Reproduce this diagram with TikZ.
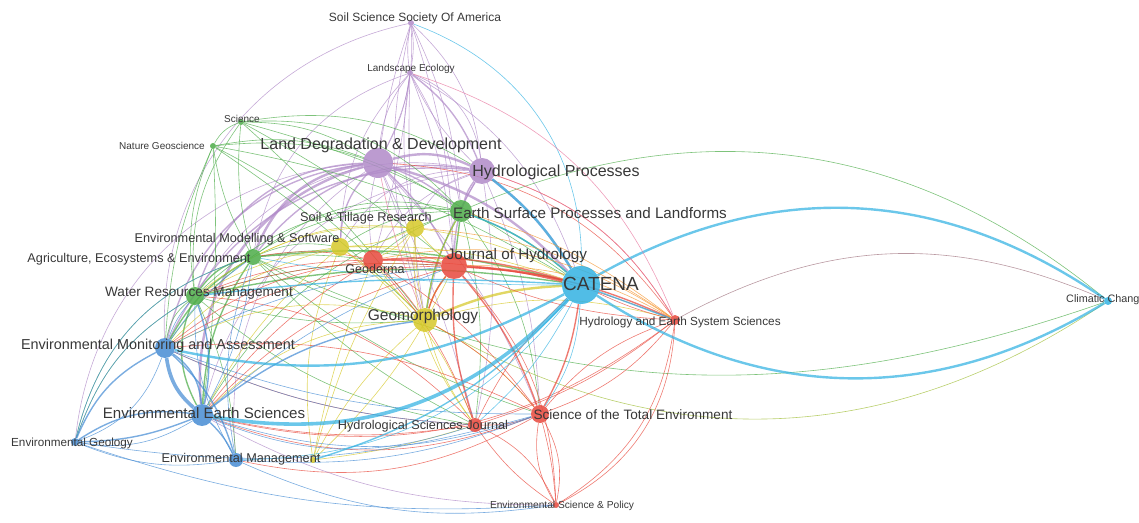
\documentclass[tikz,border=0pt]{standalone}
\usepackage{fontspec}
\setmainfont{Liberation Sans}
\usepackage{tikz}
\usetikzlibrary{positioning}
\definecolor{vred}{RGB}{232,72,60}
\definecolor{vgreen}{RGB}{76,172,72}
\definecolor{vblue}{RGB}{70,140,212}
\definecolor{vyellow}{RGB}{214,200,40}
\definecolor{vpurple}{RGB}{176,138,200}
\definecolor{vcyan}{RGB}{50,178,226}
\definecolor{vorange}{RGB}{245,150,50}
\definecolor{vpink}{RGB}{232,120,160}
\pgfdeclarelayer{edges}
\pgfsetlayers{edges,main}

\begin{document}
\begin{tikzpicture}[
    x=1pt, y=1pt,
    jnl/.style={circle, inner sep=0pt, draw=none, fill opacity=0.85},
    lbl/.style={inner sep=0pt, text=black!78},
    fs/.style={font=\fontsize{#1}{#1}\selectfont},
    ln/.style={line width=0.6pt, draw opacity=0.72},
    w2/.style={line width=1.4pt},
    w3/.style={line width=2.4pt},
    w4/.style={line width=3.6pt}
]
   \useasboundingbox (0,0) rectangle (1139,522);

   % journals (circles)
   \node[jnl, fill=vpurple, minimum size=6pt]  (SSSA) at (411,499) {};
   \node[jnl, fill=vpurple, minimum size=6pt]  (LE)   at (410,449) {};
   \node[jnl, fill=vgreen,  minimum size=6pt]  (SCI)  at (241,400) {};
   \node[jnl, fill=vgreen,  minimum size=6pt]  (NG)   at (213,376) {};
   \node[jnl, fill=vpurple, minimum size=30pt] (LDD)  at (378,359) {};
   \node[jnl, fill=vpurple, minimum size=26pt] (HP)   at (482,351) {};
   \node[jnl, fill=vgreen,  minimum size=22pt] (ESPL) at (461,311) {};
   \node[jnl, fill=vyellow, minimum size=18pt] (STR)  at (415,294) {};
   \node[jnl, fill=vyellow, minimum size=18pt] (EMS)  at (340,275) {};
   \node[jnl, fill=vgreen,  minimum size=16pt] (AEE)  at (253,265) {};
   \node[jnl, fill=vred,    minimum size=20pt] (GEO)  at (373,262) {};
   \node[jnl, fill=vred,    minimum size=26pt] (JH)   at (454,256) {};
   \node[jnl, fill=vcyan,   minimum size=38pt] (CAT)  at (581,237) {};
   \node[jnl, fill=vgreen,  minimum size=18pt] (WRM)  at (195,226) {};
   \node[jnl, fill=vyellow, minimum size=24pt] (GMP)  at (425,202) {};
   \node[jnl, fill=vred,    minimum size=10pt] (HESS) at (675,202) {};
   \node[jnl, fill=vcyan,   minimum size=8pt]  (CC)   at (1108,221) {};
   \node[jnl, fill=vblue,   minimum size=20pt] (EMA)  at (165,174) {};
   \node[jnl, fill=vblue,   minimum size=22pt] (EES)  at (202,107) {};
   \node[jnl, fill=vblue,   minimum size=8pt]  (EG)   at (75,80) {};
   \node[jnl, fill=vblue,   minimum size=14pt] (EM)   at (236,62) {};
   \node[jnl, fill=vyellow, minimum size=6pt]  (YEM)  at (313,62) {};
   \node[jnl, fill=vred,    minimum size=14pt] (HSJ)  at (475,97) {};
   \node[jnl, fill=vred,    minimum size=18pt] (STOT) at (540,108) {};
   \node[jnl, fill=vred,    minimum size=6pt]  (ESP)  at (556,17) {};

   % labels
   \node[lbl, fs=12]   (lSSSA) at (415,504) {Soil Science Society Of America};
   \node[lbl, fs=10]   (lLE)   at (411,453) {Landscape Ecology};
   \node[lbl, fs=10]   (lSCI)  at (242,403) {Science};
   \node[lbl, fs=10]   (lNG)   at (162,376) {Nature Geoscience};
   \node[lbl, fs=16]   (lLDD)  at (381,377) {Land Degradation \& Development};
   \node[lbl, fs=16]   (lHP)   at (556,350) {Hydrological Processes};
   \node[lbl, fs=15.2] (lESPL) at (590,309) {Earth Surface Processes and Landforms};
   \node[lbl, fs=12.7] (lSTR)  at (366,304) {Soil \& Tillage Research};
   \node[lbl, fs=12.7] (lEMS)  at (237,283) {Environmental Modelling \& Software};
   \node[lbl, fs=12.7] (lAEE)  at (139,263) {Agriculture, Ecosystems \& Environment};
   \node[lbl, fs=12.5] (lGEO)  at (375,253) {Geoderma};
   \node[lbl, fs=15.3] (lJH)   at (517,266) {Journal of Hydrology};
   \node[lbl, fs=19]   (lCAT)  at (601,238) {CATENA};
   \node[lbl, fs=13.6] (lWRM)  at (199,229) {Water Resources Management};
   \node[lbl, fs=15.5] (lGMP)  at (423,206) {Geomorphology};
   \node[lbl, fs=11.8] (lHESS) at (680,200) {Hydrology and Earth System Sciences};
   \node[lbl, fs=10.8, anchor=west] (lCC) at (1066,222) {Climatic Chang};
   \node[lbl, fs=14.4] (lEMA)  at (158,176) {Environmental Monitoring and Assessment};
   \node[lbl, fs=15.1] (lEES)  at (204,109) {Environmental Earth Sciences};
   \node[lbl, fs=11.7] (lEG)   at (72,79)   {Environmental Geology};
   \node[lbl, fs=12.7] (lEM)   at (241,63)  {Environmental Management};
   \node[lbl, fs=12.7] (lHSJ)  at (423,96)  {Hydrological Sciences Journal};
   \node[lbl, fs=13.6] (lSTOT) at (633,107) {Science of the Total Environment};
   \node[lbl, fs=10.2] (lESP)  at (562,16)  {Environmental Science \& Policy};

   \begin{pgfonlayer}{edges}
   % purple cluster
   \path[ln, vpurple]
   (SSSA) edge[bend right=10] (LE)
          edge[bend left=10] (LE)
          edge[bend right=5] (LDD)
          edge[bend left=15] (LDD)
          edge[bend left=20] (HP)
          edge[bend left=10] (ESPL)
          edge[bend right=40] (EMA)
          edge[bend left=8] (JH)
          edge[bend right=15] (GMP)
   (LE)   edge[bend right=15] (LDD)
          edge[bend left=10] (LDD)
          edge[w2, bend left=15] (HP)
          edge[bend left=30] (HP)
          edge[bend right=10] (HP)
          edge[bend left=10] (ESPL)
          edge[bend right=10] (STR)
          edge[bend left=5] (GEO)
          edge[bend left=8] (JH)
          edge[bend right=5] (GMP)
          edge[bend left=20] (CAT)
          edge[bend right=30] (AEE)
          edge[bend right=20] (EMS)
   (LDD)  edge[w3, bend left=20] (HP)
          edge[w2, bend left=10] (ESPL)
          edge[w3, bend left=15] (CAT)
          edge[bend left=10] (STR)
          edge[bend right=10] (GEO)
          edge[w2, bend left=10] (JH)
          edge[bend left=5] (GMP)
          edge[w3, bend right=30] (AEE)
          edge[w2, bend right=20] (EMS)
          edge[w2, bend right=35] (WRM)
          edge[w2, bend right=35] (EMA)
          edge[w3, bend right=40] (EES)
          edge[bend right=40] (EG)
          edge[bend right=30] (EM)
          edge[bend left=5] (HSJ)
          edge[bend left=10] (STOT)
   (HP)   edge[w3, bend left=10] (CAT)
          edge[w2, bend right=10] (ESPL)
          edge[w2, bend right=15] (JH)
          edge[bend right=10] (GMP)
          edge[bend right=20] (GEO)
          edge[bend right=25] (STR)
          edge[w2, bend right=30] (AEE)
          edge[bend right=30] (EMS)
          edge[bend right=35] (WRM)
          edge[w2, bend right=35] (EMA)
          edge[bend right=35] (EES)
          edge[bend left=10] (HSJ)
          edge[bend left=10] (STOT);

   % green cluster
   \path[ln, vgreen]
   (SCI)  edge[bend right=20] (NG)
          edge[bend left=25] (ESPL)
          edge[bend left=20] (HP)
          edge[bend left=15] (LDD)
          edge[bend left=10] (CAT)
          edge[bend left=5] (GMP)
          edge[bend left=5] (JH)
          edge[bend right=10] (AEE)
          edge[bend right=20] (WRM)
   (NG)   edge[bend left=20] (ESPL)
          edge[bend left=10] (CAT)
          edge[bend left=8] (GEO)
          edge[bend left=5] (GMP)
          edge[bend right=10] (AEE)
          edge[bend right=15] (WRM)
          edge[bend right=10] (EMA)
          edge[bend left=5] (EES)
          edge[bend left=15] (LDD)
   (ESPL) edge[bend left=31] (CC)
          edge[w2, bend left=10] (CAT)
          edge[w2, bend right=10] (GMP)
          edge[w2] (JH)
          edge[bend left=10] (HSJ)
          edge[bend right=25] (AEE)
          edge[bend right=25] (WRM)
          edge[bend right=30] (EMA)
          edge[bend right=20] (EES)
          edge[bend right=15] (EMS)
          edge[bend right=10] (GEO)
          edge[bend left=15] (STOT)
   (AEE)  edge[bend right=22] (CC)
          edge[w2, bend left=10] (CAT)
          edge[w2, bend right=20] (WRM)
          edge[w2, bend right=15] (EMA)
          edge[w2, bend right=15] (EES)
          edge[bend right=30] (EG)
          edge[bend right=10] (GMP)
          edge[bend left=10] (JH)
          edge[bend left=5] (GEO)
          edge[bend right=10] (STOT)
          edge[bend right=10] (HSJ)
          edge[bend left=15] (EMS)
   (WRM)  edge[w2, bend left=10] (CAT)
          edge[bend right=20] (EMA)
          edge[w2, bend right=25] (EES)
          edge[bend right=20] (EG)
          edge[bend left=10] (JH)
          edge[bend right=15] (HSJ)
          edge[bend right=10] (GMP)
          edge[bend left=10] (EM);

   % yellow cluster
   \path[ln, vyellow]
   (GMP)  edge[vyellow!60!vgreen, bend right=32] (CC)
          edge[w3, bend left=10] (CAT)
          edge[w2, bend left=10] (JH)
          edge[bend left=10] (ESPL)
          edge[bend right=10] (HSJ)
          edge[bend left=10] (STOT)
          edge[bend left=15] (HESS)
          edge[bend right=20] (EES)
          edge[bend right=20] (EMA)
          edge[bend left=5] (GEO)
          edge[bend left=5] (STR)
   (STR)  edge[bend left=10] (GEO)
          edge[bend left=10] (CAT)
          edge[bend right=5] (JH)
          edge[bend left=10] (EMS)
          edge[bend right=15] (AEE)
          edge[bend right=20] (WRM)
          edge[bend right=20] (HSJ)
   (EMS)  edge[bend right=10] (WRM)
          edge[bend right=15] (EMA)
          edge[bend left=10] (JH)
          edge[bend left=10] (CAT)
          edge[bend right=10] (EES)
          edge[bend left=5] (GMP)
          edge[bend left=15] (HSJ)
   (YEM)  edge[bend left=10] (GMP)
          edge[bend left=5] (GEO)
          edge[bend left=8] (STR)
          edge[bend right=10] (JH)
          edge[bend left=15] (EMS)
          edge[bend right=5] (HSJ);

   % red cluster
   \path[ln, vred]
   (GEO)  edge[w2, bend left=5] (JH)
          edge[w2, bend left=10] (CAT)
          edge[bend left=5] (GMP)
          edge[bend right=15] (EMA)
          edge[bend right=10] (EES)
          edge[bend right=10] (WRM)
          edge[bend left=10] (HSJ)
          edge[bend left=10] (STOT)
          edge[bend right=10] (AEE)
   (JH)   edge[w3, bend left=5] (CAT)
          edge[w2, bend left=10] (HESS)
          edge[bend right=10] (HESS)
          edge[w2, bend left=10] (STOT)
          edge[w2, bend right=10] (HSJ)
          edge[w2, bend right=10] (GMP)
          edge[bend left=20] (ESP)
          edge[bend right=15] (EES)
          edge[bend right=15] (EMA)
          edge[bend right=10] (WRM)
   (HESS) edge[vred!60!vcyan, bend left=26] (CC)
          edge[bend right=20] (HP)
          edge[bend right=25] (LDD)
          edge[bend left=5] (CAT)
          edge[bend left=15] (STOT)
          edge[bend right=15] (STOT)
          edge[bend left=10] (HSJ)
          edge[bend left=25] (ESP)
          edge[bend left=30] (ESP)
          edge[bend right=10] (GEO)
          edge[bend left=25] (EES)
   (STOT) edge[bend left=20] (ESP)
          edge[bend right=20] (ESP)
          edge[bend left=5] (ESP)
          edge[bend left=10] (HSJ)
          edge[w2, bend right=10] (CAT)
          edge[bend left=20] (EES)
          edge[bend left=20] (EM)
          edge[bend right=10] (GMP)
          edge[bend right=15] (EMA)
   (HSJ)  edge[bend left=20] (ESP)
          edge[bend right=10] (ESP)
          edge[bend left=10] (EES)
          edge[bend left=10] (EMA)
          edge[bend left=10] (CAT)
          edge[bend right=20] (WRM);

   % blue cluster
   \path[ln, vblue]
   (EES)  edge[w4, bend left=20] (EMA)
          edge[w2, bend right=25] (EMA)
          edge[w2, bend right=20] (EG)
          edge[bend left=20] (EG)
          edge[w2, bend left=10] (EM)
          edge[w2, bend right=15] (WRM)
          edge[bend right=10] (AEE)
          edge[w2, bend left=15] (GMP)
          edge[bend left=10] (JH)
          edge[bend right=20] (HSJ)
          edge[bend right=18] (STOT)
          edge[vpurple, bend right=14] (ESP)
   (EMA)  edge[w2, bend right=20] (EG)
          edge[bend left=25] (EG)
          edge[w2, bend left=15] (EM)
          edge[bend left=10] (WRM)
          edge[bend left=10] (AEE)
          edge[bend left=10] (JH)
          edge[bend right=10] (STOT)
          edge[bend right=10] (HSJ)
   (EG)   edge[w2, bend right=10] (EES)
          edge[bend left=20] (WRM)
          edge[bend left=30] (AEE)
          edge[bend right=15] (EM)
          edge[bend right=12] (STOT)
          edge[bend right=11] (ESP)
   (EM)   edge[bend right=16] (ESP)
          edge[bend right=12] (STOT)
          edge[bend left=15] (AEE)
          edge[bend left=15] (WRM);

   % cyan cluster
   \path[ln, vcyan]
   (SSSA) edge[bend left=35] (CAT)
   (CAT)  edge[w3, bend left=32] (CC)
          edge[w3, bend right=32] (CC)
          edge[w4, bend left=28] (EES)
          edge[w3, bend left=20] (EMA)
          edge[w2, bend left=15] (YEM)
          edge[w2, bend right=5] (WRM)
          edge[bend left=5] (AEE)
          edge[w3, bend right=10] (HP)
          edge[w2, bend right=10] (ESPL)
          edge[bend left=10] (HSJ)
          edge[bend left=15] (STOT)
          edge[w2] (HESS)
          edge[bend left=25] (EM);

   % mixed colours
   \path[ln, vorange]
   (JH)   edge[bend left=15] (HESS)
   (ESPL) edge[bend left=10] (HESS)
   (STR)  edge[bend left=15] (HESS)
   (GEO)  edge[bend left=22] (HESS);
   \path[ln, vpink]
   (HP)   edge[bend left=20] (HESS)
   (LE)   edge[bend left=25] (HESS)
   (LDD)  edge[bend right=5] (GMP);
   \end{pgfonlayer}
\end{tikzpicture}
\end{document}
